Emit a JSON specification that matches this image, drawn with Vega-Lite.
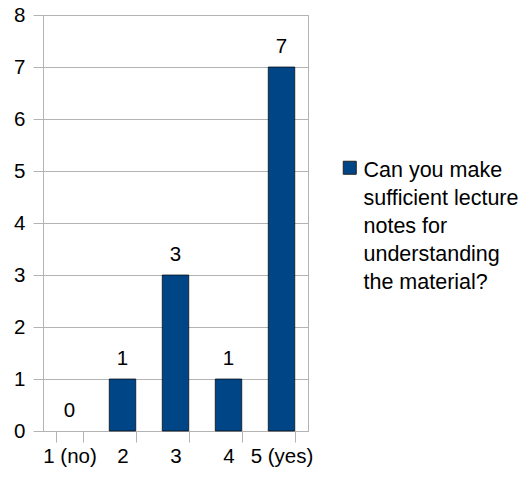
{
  "$schema": "https://vega.github.io/schema/vega-lite/v6.json",
  "autosize": {"type": "none"},
  "padding": {"left": 43, "top": 15, "right": 222, "bottom": 46},
  "width": 265,
  "height": 416,
  "background": "white",
  "config": {
    "font": "Liberation Sans",
    "view": {"stroke": "#b3b3b3", "strokeWidth": 1}
  },
  "data": {
    "values": [
      {"answer": "1 (no)", "count": 0, "series": "Can you make sufficient lecture notes for understanding the material?"},
      {"answer": "2", "count": 1, "series": "Can you make sufficient lecture notes for understanding the material?"},
      {"answer": "3", "count": 3, "series": "Can you make sufficient lecture notes for understanding the material?"},
      {"answer": "4", "count": 1, "series": "Can you make sufficient lecture notes for understanding the material?"},
      {"answer": "5 (yes)", "count": 7, "series": "Can you make sufficient lecture notes for understanding the material?"}
    ]
  },
  "encoding": {
    "x": {
      "field": "answer",
      "type": "nominal",
      "sort": null,
      "scale": {"paddingInner": 0.5, "paddingOuter": 0.25},
      "axis": {
        "title": null,
        "labelAngle": 0,
        "tickBand": "extent",
        "domainColor": "#b3b3b3",
        "tickColor": "#b3b3b3",
        "tickSize": 11,
        "labelFontSize": 20.5,
        "labelColor": "black",
        "labelPadding": 4,
        "grid": false
      }
    },
    "y": {
      "field": "count",
      "type": "quantitative",
      "scale": {"domain": [0, 8], "nice": false},
      "axis": {
        "title": null,
        "values": [0, 1, 2, 3, 4, 5, 6, 7, 8],
        "domainColor": "#b3b3b3",
        "tickColor": "#b3b3b3",
        "gridColor": "#b3b3b3",
        "tickSize": 10,
        "labelFontSize": 20.5,
        "labelColor": "black",
        "labelPadding": 8
      }
    }
  },
  "layer": [
    {
      "mark": {"type": "bar", "stroke": "black", "strokeWidth": 0.7},
      "encoding": {
        "strokeOpacity": {"condition": {"test": "datum.count > 0", "value": 1}, "value": 0},
        "color": {
          "field": "series",
          "type": "nominal",
          "scale": {"range": ["#004586"]},
          "legend": {
            "title": null,
            "orient": "none",
            "legendX": 296,
            "legendY": 142,
            "padding": 0,
            "symbolType": "square",
            "symbolSize": 169,
            "symbolStrokeColor": "#222222",
            "symbolStrokeWidth": 1,
            "labelFontSize": 21.5,
            "labelColor": "black",
            "labelOffset": 3,
            "labelLimit": 300,
            "labelBaseline": "top",
            "labelExpr": "['Can you make', 'sufficient lecture', 'notes for', 'understanding', 'the material?']",
            "encode": {"labels": {"update": {"lineHeight": {"value": 28}, "dy": {"value": -8}}}}
          }
        }
      }
    },
    {
      "mark": {"type": "text", "baseline": "alphabetic", "dy": -14, "fontSize": 20.5, "color": "black"},
      "encoding": {"text": {"field": "count", "type": "quantitative"}}
    }
  ]
}
